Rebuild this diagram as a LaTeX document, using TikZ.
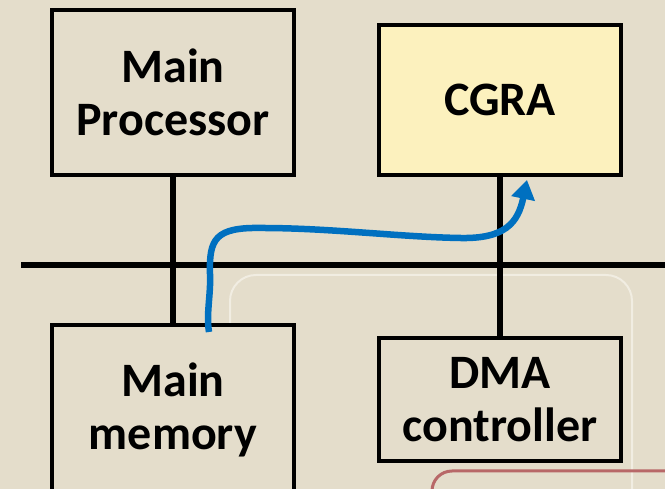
\documentclass[tikz,border=0pt]{standalone}
\usepackage{fontspec}
\setmainfont{Carlito}
\usepackage{tikz}
\usetikzlibrary{
  arrows.meta,
  positioning,
  backgrounds
}
\definecolor{slidebg}{RGB}{228,221,203}
\definecolor{cgrafill}{RGB}{252,241,190}
\definecolor{flowblue}{RGB}{0,112,192}
\definecolor{faintline}{RGB}{241,237,226}
\definecolor{redline}{RGB}{184,104,104}

\begin{document}
\begin{tikzpicture}[
      x=1pt,y=1pt,
      unit/.style={
         rectangle,
         line width=4.5pt,
         draw=black,
         fill=slidebg,
         minimum width=242pt,
         align=center,
         font=\bfseries\fontsize{48}{53}\selectfont
      },
      wire/.style={line width=6.5pt,draw=black},
      flow/.style={line width=6.5pt,draw=flowblue,
         -{Triangle[width=23pt,length=19pt]}}
    ]
    \useasboundingbox (0,0) rectangle (665,489);
    \fill[slidebg] (0,0) rectangle (665,489);
    % decoration behind the diagram
    \draw[faintline,line width=2pt,rounded corners=26pt]
       (230,-10) -- (230,214) -- (632,214) -- (632,-10);
    \draw[redline,line width=3pt,rounded corners=20pt]
       (432,-10) -- (432,18) -- (680,18);
    % the units
    \node (proc) [unit,minimum height=165pt] at (173,396.5) {Main\\Processor};
    \node (cgra) [unit,minimum height=150pt,fill=cgrafill] at (500,389) {CGRA};
    \node (mem)  [unit,minimum height=170pt] at (173,79) {Main\\memory};
    \node (dma)  [unit,minimum height=123pt] at (500,89.5) {DMA\\controller};
    % the bus
    \coordinate (busl) at (21,224);
    \coordinate (busr) at (665,224);
    \draw[wire] (busl) -- (busr);
    \draw[wire] (proc.south) -- (mem.north);
    \draw[wire] (cgra.south) -- (dma.north);
    % data path
    \coordinate (flowstart) at (209,157);
    \coordinate (flowend) at (527,309);
    \draw[flow] (flowstart) .. controls (206,175) and (211,195) .. (210,215)
       .. controls (209,250) and (215,262) .. (262,261)
       .. controls (330,261) and (400,252) .. (460,251)
       .. controls (505,250) and (518,266) .. (flowend);
\end{tikzpicture}
\end{document}
